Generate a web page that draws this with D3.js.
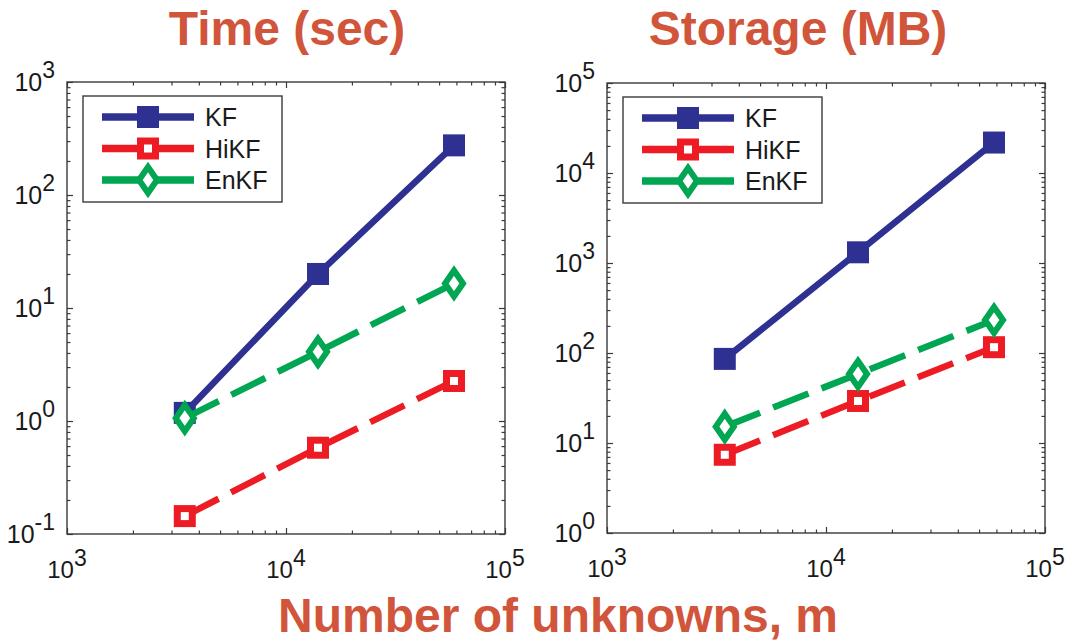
<!DOCTYPE html>
<html>
<head>
<meta charset="utf-8">
<script src="https://cdn.jsdelivr.net/npm/d3@7"></script>
<style>
  html, body { margin: 0; padding: 0; background: #ffffff; }
  svg { display: block; font-family: "Liberation Sans", Arial, Helvetica, sans-serif; }
</style>
</head>
<body>
<script>
// ---------------- data ----------------
const seriesNames = ["KF", "HiKF", "EnKF"];
const xValues = [3450, 14000, 58500];           // number of unknowns, m
const timeKF   = [1.18, 20, 275];
const timeHiKF = [0.144, 0.58, 2.26];
const timeEnKF = [1.06, 4.1, 16.5];
const storKF   = [86, 1315, 21800];
const storHiKF = [7.4, 29.3, 116];
const storEnKF = [15.2, 58.5, 233];
const xTickExps = [3, 4, 5];
const timeTickExps = [-1, 0, 1, 2, 3];
const storTickExps = [0, 1, 2, 3, 4, 5];
const panelTitles = ["Time (sec)", "Storage (MB)"];
const xAxisTitle = "Number of unknowns, m";

// ---------------- styles ----------------
const colors = { KF: "#2e3192", HiKF: "#ed1c24", EnKF: "#00a651" };
const dashes = { KF: null, HiKF: "38,14", EnKF: "38,14" };
const titleColor = "#d1553b";
const axisColor = "#3a3a3a";
const W = 1077, H = 642;

const svg = d3.select("body").append("svg").attr("width", W).attr("height", H);

function drawMarker(g, name, cx, cy) {
  const c = colors[name];
  if (name === "KF") {
    g.append("rect").attr("x", cx - 11).attr("y", cy - 11).attr("width", 22).attr("height", 22)
      .attr("fill", c);
  } else if (name === "HiKF") {
    g.append("rect").attr("x", cx - 7.5).attr("y", cy - 7.5).attr("width", 15).attr("height", 15)
      .attr("fill", "#fff").attr("stroke", c).attr("stroke-width", 7);
  } else {
    const hw = 9, hh = 13;
    g.append("path")
      .attr("d", `M${cx},${cy - hh}L${cx + hw},${cy}L${cx},${cy + hh}L${cx - hw},${cy}Z`)
      .attr("fill", "#fff").attr("stroke", c).attr("stroke-width", 6).attr("stroke-linejoin", "miter");
  }
}

function drawPanel(cfg) {
  const { left, top, width, height, yDomain, yExps, series, title, titleX } = cfg;
  const g = svg.append("g").attr("transform", `translate(${left},${top})`);
  const x = d3.scaleLog().domain([1e3, 1e5]).range([0, width]);
  const y = d3.scaleLog().domain(yDomain).range([height, 0]);

  const isPow10 = v => Math.abs(Math.log10(v) - Math.round(Math.log10(v))) < 1e-9;
  const xAll = x.ticks();
  const xMajor = xAll.filter(isPow10), xMinor = xAll.filter(v => !isPow10(v));
  const yAll = y.ticks(50);
  const yMajor = yAll.filter(isPow10), yMinor = yAll.filter(v => !isPow10(v));

  const styleAxis = sel => {
    sel.select(".domain").remove();
    sel.selectAll(".tick line").attr("stroke", axisColor).attr("stroke-width", 1.2);
    sel.selectAll(".tick text").remove();
  };
  const mk = (axisFn, scale, vals, size, tr) => {
    g.append("g").attr("transform", tr)
      .call(axisFn(scale).tickValues(vals).tickSize(-size).tickFormat(""))
      .call(styleAxis);
  };
  mk(d3.axisBottom, x, xMajor, 6, `translate(0,${height})`);
  mk(d3.axisBottom, x, xMinor, 3.5, `translate(0,${height})`);
  mk(d3.axisTop, x, xMajor, 6, `translate(0,0)`);
  mk(d3.axisTop, x, xMinor, 3.5, `translate(0,0)`);
  mk(d3.axisLeft, y, yMajor, 6, `translate(0,0)`);
  mk(d3.axisLeft, y, yMinor, 3.5, `translate(0,0)`);
  mk(d3.axisRight, y, yMajor, 6, `translate(${width},0)`);
  mk(d3.axisRight, y, yMinor, 3.5, `translate(${width},0)`);

  g.append("rect").attr("x", 0).attr("y", 0).attr("width", width).attr("height", height)
    .attr("fill", "none").attr("stroke", axisColor).attr("stroke-width", 1.4);

  // x tick labels
  xTickExps.forEach(e => {
    const t = g.append("text").attr("x", x(Math.pow(10, e))).attr("y", height + 44)
      .attr("text-anchor", "middle").attr("font-size", 24).attr("fill", "#1a1a1a");
    t.append("tspan").text("10");
    t.append("tspan").attr("dy", -12).attr("font-size", 23).text(String(e));
  });
  // y tick labels
  yExps.forEach(e => {
    const t = g.append("text").attr("x", -12).attr("y", y(Math.pow(10, e)) + 9)
      .attr("text-anchor", "end").attr("font-size", 25).attr("fill", "#1a1a1a");
    t.append("tspan").text("10");
    t.append("tspan").attr("dy", -13).attr("font-size", 23).text(String(e));
  });

  // series
  const line = d3.line().x(d => x(d[0])).y(d => y(d[1]));
  seriesNames.forEach(name => {
    const pts = xValues.map((xv, i) => [xv, series[name][i]]);
    const p = g.append("path").attr("d", line(pts)).attr("fill", "none")
      .attr("stroke", colors[name]).attr("stroke-width", 6.5);
    if (dashes[name]) p.attr("stroke-dasharray", dashes[name]);
    pts.forEach(d => drawMarker(g, name, x(d[0]), y(d[1])));
  });

  // legend
  const lg = g.append("g").attr("transform", "translate(16,14)");
  lg.append("rect").attr("width", 199).attr("height", 106).attr("fill", "#fff")
    .attr("stroke", axisColor).attr("stroke-width", 1.4);
  seriesNames.forEach((name, i) => {
    const ly = 21 + i * 31.5;
    lg.append("line").attr("x1", 19).attr("x2", 111).attr("y1", ly).attr("y2", ly)
      .attr("stroke", colors[name]).attr("stroke-width", 7.5);
    drawMarker(lg, name, 65, ly);
    lg.append("text").attr("x", 122).attr("y", ly + 9).attr("font-size", 25)
      .attr("fill", "#1a1a1a").text(name);
  });

  // title
  svg.append("text").attr("x", titleX).attr("y", 45).attr("text-anchor", "middle")
    .attr("font-size", 48).attr("font-weight", "bold").attr("fill", titleColor).text(title);
}

drawPanel({
  left: 67, top: 82, width: 438, height: 452,
  yDomain: [0.1, 1000], yExps: timeTickExps,
  series: { KF: timeKF, HiKF: timeHiKF, EnKF: timeEnKF },
  title: panelTitles[0], titleX: 287
});
drawPanel({
  left: 607, top: 83, width: 438, height: 450,
  yDomain: [1, 1e5], yExps: storTickExps,
  series: { KF: storKF, HiKF: storHiKF, EnKF: storEnKF },
  title: panelTitles[1], titleX: 798
});

svg.append("text").attr("x", 558).attr("y", 632).attr("text-anchor", "middle")
  .attr("font-size", 48).attr("font-weight", "bold").attr("fill", titleColor).text(xAxisTitle);
</script>
</body>
</html>
